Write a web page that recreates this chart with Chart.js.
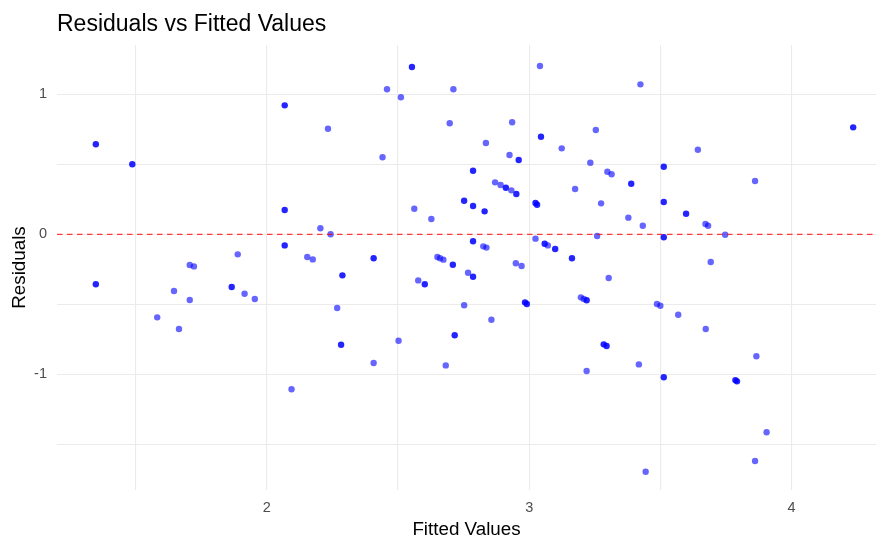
<!DOCTYPE html>
<html>
<head>
<meta charset="utf-8">
<script src="https://cdn.jsdelivr.net/npm/chart.js@4.4.1/dist/chart.umd.min.js"></script>
<style>
  html, body { margin: 0; padding: 0; background: #fff; }
  #wrap { width: 880px; height: 539px; }
</style>
</head>
<body>
<div id="wrap"><canvas id="ResidChart"></canvas></div>
<script>
// single points (alpha shows through)
var fittedLight = [1.889, 1.706, 1.722, 1.646, 1.915, 1.954, 1.706, 1.582, 1.665, 2.458,
    2.511, 2.711, 2.233, 2.697, 2.441, 2.562, 2.627, 2.204, 2.243, 2.154,
    2.175, 2.650, 2.660, 2.673, 2.577, 2.767, 2.268, 2.752, 2.502, 2.407,
    2.682, 2.094, 3.041, 3.424, 2.935, 2.835, 3.124, 3.254, 2.925, 3.233,
    3.298, 3.314, 2.870, 2.891, 2.932, 3.175, 3.274, 3.378, 3.433, 3.259,
    3.024, 3.071, 2.825, 2.837, 2.949, 2.971, 3.303, 2.856, 3.197, 3.208,
    3.487, 3.500, 3.568, 3.418, 3.219, 3.444, 3.643, 3.861, 3.672, 3.682,
    3.747, 3.692, 3.673, 3.866, 3.905, 3.861];
var residLight = [-0.143, -0.219, -0.229, -0.405, -0.424, -0.462, -0.469, -0.593, -0.676, 1.036,
    0.979, 1.036, 0.754, 0.793, 0.550, 0.183, 0.109, 0.043, 0.000, -0.162,
    -0.179, -0.162, -0.171, -0.181, -0.329, -0.274, -0.526, -0.507, -0.760, -0.919,
    -0.936, -1.107, 1.202, 1.071, 0.800, 0.652, 0.614, 0.745, 0.566, 0.511,
    0.447, 0.429, 0.371, 0.352, 0.314, 0.324, 0.221, 0.119, 0.061, -0.012,
    -0.031, -0.079, -0.086, -0.095, -0.207, -0.226, -0.312, -0.610, -0.450, -0.462,
    -0.498, -0.510, -0.574, -0.929, -0.976, -1.696, 0.604, 0.381, 0.074, 0.061,
    -0.003, -0.198, -0.676, -0.871, -1.414, -1.619];

// points that look doubled (darker)
var fittedDark = [1.348, 1.487, 1.348, 1.866, 2.068, 2.553, 2.786, 2.752, 2.786, 2.068,
    2.068, 2.786, 2.407, 2.709, 2.288, 2.602, 2.786, 2.283, 2.716, 3.045,
    2.960, 3.513, 3.389, 2.911, 2.951, 3.024, 3.030, 3.513, 2.830, 3.513,
    3.059, 3.099, 3.163, 2.984, 2.991, 3.219, 3.284, 3.295, 3.513, 4.235,
    3.598, 3.786, 3.792];
var residDark = [0.643, 0.500, -0.357, -0.376, 0.921, 1.195, 0.454, 0.240, 0.202, 0.174,
    -0.079, -0.050, -0.171, -0.217, -0.293, -0.357, -0.303, -0.789, -0.721, 0.697,
    0.531, 0.483, 0.361, 0.333, 0.288, 0.224, 0.211, 0.231, 0.164, -0.021,
    -0.067, -0.105, -0.171, -0.486, -0.498, -0.471, -0.786, -0.798, -1.021, 0.764,
    0.147, -1.041, -1.050];

var xTicks = [1.5, 2, 2.5, 3, 3.5, 4];
var yTicks = [-1.5, -1, -0.5, 0, 0.5, 1];
var xRange = [1.2, 4.322];
var yRange = [-1.826, 1.352];
var refLineY = 0;

function toPoints(xs, ys) {
    return xs.map(function (v, i) { return { x: v, y: ys[i] }; });
}

var fontFam = "'Liberation Sans', Arial, sans-serif";

new Chart("ResidChart", {
    type: "scatter",
    data: {
        datasets: [
            {
                type: "line",
                data: [{ x: xRange[0], y: refLineY }, { x: xRange[1], y: refLineY }],
                borderColor: "rgba(255,0,0,0.75)",
                borderWidth: 1.2,
                borderDash: [5.5, 4.5],
                pointRadius: 0,
                fill: false,
                order: 0
            },
            {
                data: toPoints(fittedLight, residLight),
                backgroundColor: "rgba(0,0,255,0.6)",
                borderWidth: 0,
                pointRadius: 3.2,
                order: 2
            },
            {
                data: toPoints(fittedDark, residDark),
                backgroundColor: "rgba(0,0,255,0.86)",
                borderWidth: 0,
                pointRadius: 3.2,
                order: 1
            }
        ]
    },
    options: {
        responsive: true,
        maintainAspectRatio: false,
        animation: false,
        layout: { padding: { left: 0, right: 2, top: 0, bottom: 0 } },
        plugins: {
            legend: { display: false },
            tooltip: { enabled: false },
            title: {
                display: true,
                text: "Residuals vs Fitted Values",
                align: "start",
                fullSize: false,
                color: "#000",
                font: { family: fontFam, size: 23, weight: "normal" },
                padding: { top: 11, bottom: 6.4 }
            }
        },
        scales: {
            x: {
                type: "linear",
                min: xRange[0],
                max: xRange[1],
                afterBuildTicks: function (scale) {
                    scale.ticks = xTicks.map(function (v) { return { value: v }; });
                },
                afterFit: function (scale) { scale.height = 49; },
                ticks: {
                    autoSkip: false,
                    maxRotation: 0,
                    padding: 9.5,
                    color: "#4d4d4d",
                    font: { family: fontFam, size: 14.5 },
                    callback: function (v) { return Number.isInteger(v) ? String(v) : ""; }
                },
                grid: { color: "#ebebeb", lineWidth: 1.1, drawTicks: false },
                border: { display: false },
                title: {
                    display: true,
                    text: "Fitted Values",
                    color: "#000",
                    font: { family: fontFam, size: 18.8 },
                    padding: { top: 0, bottom: -2 }
                }
            },
            y: {
                type: "linear",
                min: yRange[0],
                max: yRange[1],
                afterBuildTicks: function (scale) {
                    scale.ticks = yTicks.map(function (v) { return { value: v }; });
                },
                afterFit: function (scale) { scale.width = 57; },
                ticks: {
                    autoSkip: false,
                    padding: 10,
                    color: "#4d4d4d",
                    font: { family: fontFam, size: 14.5 },
                    callback: function (v) { return Number.isInteger(v) ? String(v) : ""; }
                },
                grid: { color: "#ebebeb", lineWidth: 1.1, drawTicks: false },
                border: { display: false },
                title: {
                    display: true,
                    text: "Residuals",
                    color: "#000",
                    font: { family: fontFam, size: 18.8 },
                    padding: { top: 8.7, bottom: 0 }
                }
            }
        }
    }
});
</script>
</body>
</html>
